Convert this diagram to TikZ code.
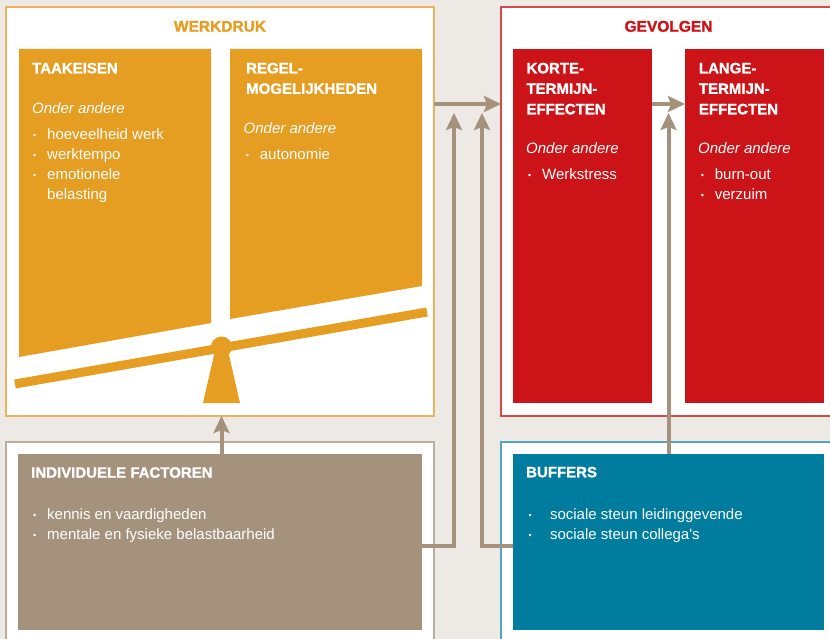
\documentclass[tikz,border=0pt]{standalone}
\usepackage{fontspec}
\setmainfont{Liberation Sans}[BoldFeatures={FakeBold=1.3}]
\usetikzlibrary{arrows.meta}

\definecolor{achter}{HTML}{EDE9E5}
\definecolor{oranje}{HTML}{E59D22}
\definecolor{oranjerand}{HTML}{EDB25C}
\definecolor{rood}{HTML}{CC1418}
\definecolor{roodrand}{HTML}{D6484B}
\definecolor{taupe}{HTML}{A4927D}
\definecolor{tauperand}{HTML}{BCAE9E}
\definecolor{blauw}{HTML}{007C9F}
\definecolor{blauwrand}{HTML}{52A4BF}

% opsommingsteken met vaste inspringing
\newcommand\bol[1][14pt]{\makebox[#1][l]{\raisebox{1pt}{\fontsize{9}{9}\selectfont\textbullet}}}

\begin{document}
\begin{tikzpicture}[x=1pt,y=-1pt,line join=miter,
		>={Stealth[length=17pt,width=16pt,inset=3pt]},
		font=\fontsize{15}{20}\selectfont,
		kader/.style={draw=#1,line width=1.5pt,fill=white,anchor=north west,inner sep=0pt,outer sep=0pt},
		vlak/.style={fill=#1,anchor=north west,inner sep=0pt,outer sep=0pt},
		titel/.style={text=#1,font=\fontsize{15.5}{20}\selectfont\bfseries,anchor=base,inner sep=0pt},
		kop/.style={text=white,font=\fontsize{15}{20.5}\selectfont\bfseries,align=left,anchor=base west,inner sep=0pt},
		tekst/.style={text=white,align=left,anchor=base west,inner sep=0pt},
		oa/.style={tekst,font=\fontsize{15}{20}\selectfont\itshape},
		pijl/.style={->,draw=taupe,line width=4pt}]
	\useasboundingbox (0,0) rectangle (830,639);
	\clip (0,0) rectangle (830,639);
	\fill[achter] (0,0) rectangle (830,639);

	% kaders
	\node[kader=oranjerand,minimum width=428pt,minimum height=409pt] (werkdruk) at (6,7) {};
	\node[kader=roodrand,minimum width=344pt,minimum height=409pt] (gevolgen) at (501,7) {};
	\node[kader=tauperand,minimum width=428pt,minimum height=210pt] (indivkader) at (6,442) {};
	\node[kader=blauwrand,minimum width=344pt,minimum height=210pt] (bufferkader) at (501,442) {};

	% werkdruk: twee schuine vlakken op een wip
	\fill[oranje] (19,49) -- (211,49) -- (211,323) -- (19,357) -- cycle;
	\fill[oranje] (230,49) -- (422,49) -- (422,286) -- (230,319) -- cycle;
	\draw[oranje,line width=9pt] (15,384) -- (427,312);
	\node[circle,fill=oranje,minimum size=21pt,inner sep=0pt] (spil) at (221.5,347) {};
	\fill[oranje] (214,355) -- (229,355) -- (240,403) -- (203,403) -- cycle;

	\node[vlak=rood,minimum width=139pt,minimum height=354pt] (korte) at (513,49) {};
	\node[vlak=rood,minimum width=139pt,minimum height=354pt] (lange) at (685,49) {};
	\node[vlak=taupe,minimum width=404pt,minimum height=176pt] (indiv) at (18,454) {};
	\node[vlak=blauw,minimum width=311pt,minimum height=176pt] (buffers) at (513,454) {};

	% pijlen
	\coordinate (pijlhoogte) at (0,104);
	\coordinate (pijlvoet) at (0,546);
	\coordinate (punt1) at (454,113);
	\coordinate (punt2) at (482,113);
	\coordinate (punt3) at (668.5,113);
	\draw[pijl] (indiv.north -| spil) -- (werkdruk.south -| spil);
	\draw[pijl] (werkdruk.east |- pijlhoogte) -- (gevolgen.west |- pijlhoogte);
	\draw[pijl] (korte.east |- pijlhoogte) -- (lange.west |- pijlhoogte);
	\draw[pijl] (indiv.east |- pijlvoet) -| (punt1);
	\draw[pijl] (buffers.west |- pijlvoet) -| (punt2);
	\draw[pijl] (buffers.north -| punt3) -- (punt3);

	% teksten (bij meerdere regels staat de basislijn van de laatste regel op de coordinaat)
	\node[titel=oranje] (t-werkdruk) at (220,31.7) {WERKDRUK};
	\node[titel=rood] (t-gevolgen) at (668.5,31.7) {GEVOLGEN};

	\node[kop] (k-taak) at (32,73.3) {TAAKEISEN};
	\node[oa] (oa-taak) at (32,114) {Onder andere};
	\node[tekst] (l-taak) at (33,199.3) {\bol hoeveelheid werk\\\bol werktempo\\\bol emotionele\\\hspace*{14pt}belasting};

	\node[kop] (k-regel) at (246,93.8) {REGEL-\\MOGELIJKHEDEN};
	\node[oa] (oa-regel) at (243.5,134) {Onder andere};
	\node[tekst] (l-regel) at (245.7,159.3) {\bol autonomie};

	\node[kop] (k-korte) at (526.3,114.3) {KORTE-\\TERMIJN-\\EFFECTEN};
	\node[oa] (oa-korte) at (526,154) {Onder andere};
	\node[tekst] (l-korte) at (528,179.3) {\bol Werkstress};

	\node[kop] (k-lange) at (698.7,114.3) {LANGE-\\TERMIJN-\\EFFECTEN};
	\node[oa] (oa-lange) at (698,154) {Onder andere};
	\node[tekst] (l-lange) at (700.7,199.3) {\bol burn-out\\\bol verzuim};

	\node[kop] (k-indiv) at (31,477.7) {INDIVIDUELE FACTOREN};
	\node[tekst] (l-indiv) at (33,539.3) {\bol kennis en vaardigheden\\\bol mentale en fysieke belastbaarheid};

	\node[kop] (k-buffers) at (526,477.3) {BUFFERS};
	\node[tekst] (l-buffers) at (528.3,539) {\bol[17.4pt] sociale steun leidinggevende\\\bol[17.4pt] sociale steun collega\textquotesingle s};
\end{tikzpicture}
\end{document}
